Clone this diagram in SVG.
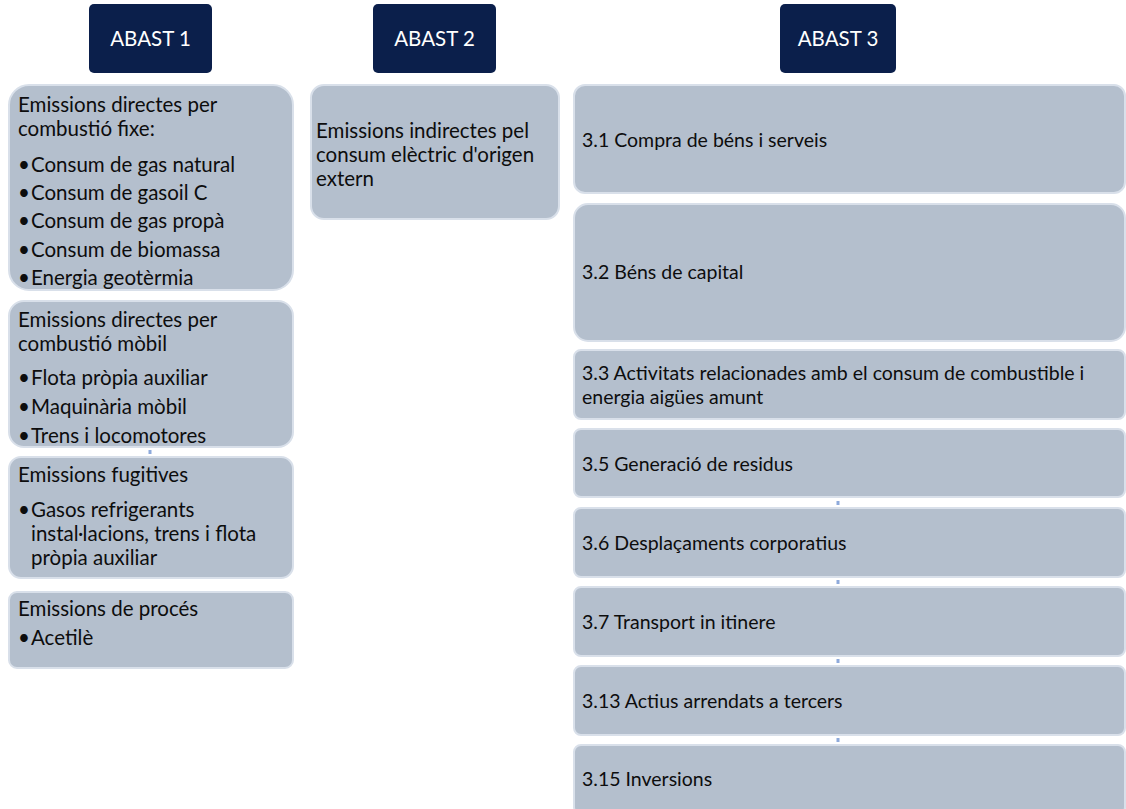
<svg xmlns="http://www.w3.org/2000/svg" width="1126" height="809" viewBox="0 0 1126 809">
<style>
.hdr{fill:#0b1f4b}
.hdrt{fill:#ffffff;font-family:Lato,"Liberation Sans",sans-serif;font-size:20.5px;text-anchor:middle}
.box{fill:#b4bfcd;stroke:#d9e0ea;stroke-width:2}
.t{fill:#0d0d0d;font-family:Lato,"Liberation Sans",sans-serif;font-size:20.5px}
.t3{fill:#0d0d0d;font-family:Lato,"Liberation Sans",sans-serif;font-size:19.5px}
.t2{fill:#0d0d0d;font-family:Lato,"Liberation Sans",sans-serif;font-size:20.5px}
.dot{fill:#8eaadb}
</style>
<rect width="1126" height="809" fill="#ffffff"/>
<g id="connectors">
<rect class="dot" x="148.5" y="450" width="3" height="4"/>
<rect class="dot" x="836.5" y="501" width="3" height="4"/>
<rect class="dot" x="836.5" y="580" width="3" height="4"/>
<rect class="dot" x="836.5" y="659" width="3" height="4"/>
<rect class="dot" x="836.5" y="738" width="3" height="4"/>
</g>
<g id="abast1">
<rect class="hdr" x="89" y="4" width="123" height="69" rx="5"/>
<text class="hdrt" x="150.5" y="46">ABAST 1</text>
</g>
<g id="abast2">
<rect class="hdr" x="373" y="4" width="123" height="69" rx="5"/>
<text class="hdrt" x="434.5" y="46">ABAST 2</text>
</g>
<g id="abast3">
<rect class="hdr" x="780" y="4" width="116" height="69" rx="5"/>
<text class="hdrt" x="838" y="46">ABAST 3</text>
</g>
<g id="a1-fixe">
<rect class="box" x="9" y="85" width="284" height="205" rx="20"/>
<text class="t" x="18" y="112">Emissions directes per</text>
<text class="t" x="18" y="136">combustió fixe:</text>
<text class="t" x="18" y="172">•</text><text class="t" x="31" y="172">Consum de gas natural</text>
<text class="t" x="18" y="200">•</text><text class="t" x="31" y="200">Consum de gasoil C</text>
<text class="t" x="18" y="228">•</text><text class="t" x="31" y="228">Consum de gas propà</text>
<text class="t" x="18" y="257">•</text><text class="t" x="31" y="257">Consum de biomassa</text>
<text class="t" x="18" y="285">•</text><text class="t" x="31" y="285">Energia geotèrmia</text>
</g>
<g id="a1-mobil">
<rect class="box" x="9" y="301" width="284" height="146" rx="15"/>
<text class="t" x="18" y="327">Emissions directes per</text>
<text class="t" x="18" y="351">combustió mòbil</text>
<text class="t" x="18" y="385">•</text><text class="t" x="31" y="385">Flota pròpia auxiliar</text>
<text class="t" x="18" y="414">•</text><text class="t" x="31" y="414">Maquinària mòbil</text>
<text class="t" x="18" y="443">•</text><text class="t" x="31" y="443">Trens i locomotores</text>
</g>
<g id="a1-fugitives">
<rect class="box" x="9" y="457" width="284" height="121" rx="12"/>
<text class="t" x="18" y="482">Emissions fugitives</text>
<text class="t" x="18" y="517">•</text><text class="t" x="31" y="517">Gasos refrigerants</text>
<text class="t" x="31" y="541">instal·lacions, trens i flota</text>
<text class="t" x="31" y="565">pròpia auxiliar</text>
</g>
<g id="a1-proces">
<rect class="box" x="9" y="592" width="284" height="76" rx="8"/>
<text class="t" x="18" y="616">Emissions de procés</text>
<text class="t" x="18" y="645">•</text><text class="t" x="31" y="645">Acetilè</text>
</g>
<g id="a2-electric">
<rect class="box" x="311" y="85" width="248" height="134" rx="13"/>
<text class="t2" x="316" y="138">Emissions indirectes pel</text>
<text class="t2" x="316" y="162">consum elèctric d'origen</text>
<text class="t2" x="316" y="186">extern</text>
</g>
<g id="a3-31">
<rect class="box" x="574" y="85" width="551" height="108" rx="11"/>
<text class="t3" x="582" y="147">3.1 Compra de béns i serveis</text>
</g>
<g id="a3-32">
<rect class="box" x="574" y="204" width="551" height="137" rx="14"/>
<text class="t3" x="582" y="279">3.2 Béns de capital</text>
</g>
<g id="a3-33">
<rect class="box" x="574" y="350" width="551" height="69" rx="7"/>
<text class="t3" x="582" y="380">3.3 Activitats relacionades amb el consum de combustible i</text>
<text class="t3" x="582" y="404">energia aigües amunt</text>
</g>
<g id="a3-35">
<rect class="box" x="574" y="429" width="551" height="68" rx="7"/>
<text class="t3" x="582" y="471">3.5 Generació de residus</text>
</g>
<g id="a3-36">
<rect class="box" x="574" y="508" width="551" height="69" rx="7"/>
<text class="t3" x="582" y="550">3.6 Desplaçaments corporatius</text>
</g>
<g id="a3-37">
<rect class="box" x="574" y="587" width="551" height="69" rx="7"/>
<text class="t3" x="582" y="629">3.7 Transport in itinere</text>
</g>
<g id="a3-313">
<rect class="box" x="574" y="666" width="551" height="69" rx="7"/>
<text class="t3" x="582" y="708">3.13 Actius arrendats a tercers</text>
</g>
<g id="a3-315">
<rect class="box" x="574" y="745" width="551" height="69" rx="7"/>
<text class="t3" x="582" y="786">3.15 Inversions</text>
</g>
</svg>
